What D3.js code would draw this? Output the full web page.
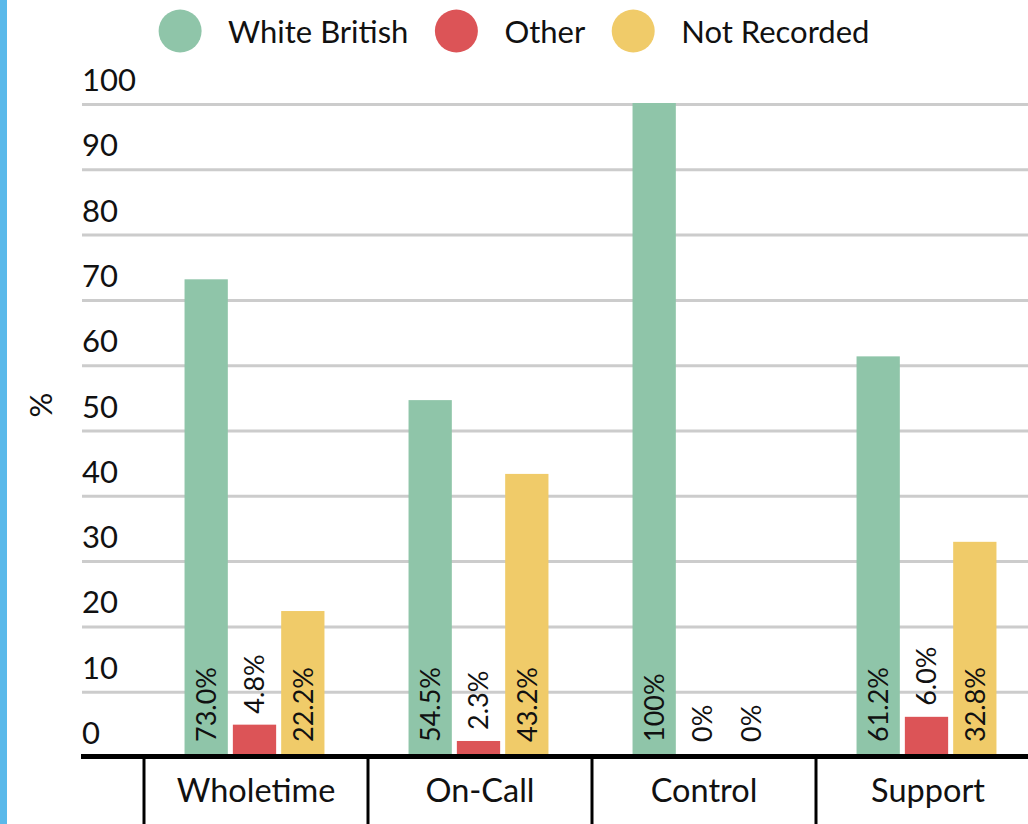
<!DOCTYPE html>
<html>
<head>
<meta charset="utf-8">
<script src="https://cdn.jsdelivr.net/npm/d3@7"></script>
<style>
  html, body { margin: 0; padding: 0; background: #fff; }
  svg { display: block; font-family: Lato, sans-serif; }
</style>
</head>
<body>
<svg id="chart" width="1028" height="824"></svg>
<script>
const categories = ["Wholetime", "On-Call", "Control", "Support"];
const seriesNames = ["White British", "Other", "Not Recorded"];
const whiteBritish = [73.0, 54.5, 100, 61.2];
const other = [4.8, 2.3, 0, 6.0];
const notRecorded = [22.2, 43.2, 0, 32.8];
const yTicks = [0, 10, 20, 30, 40, 50, 60, 70, 80, 90, 100];
const yAxisTitle = "%";

const colors = ["#8fc5a9", "#dc5457", "#f0cb69"];
const seriesValues = [whiteBritish, other, notRecorded];

const W = 1028, H = 824;
const svg = d3.select("#chart");

// left accent bar
svg.append("rect").attr("x", 0).attr("y", 0).attr("width", 7).attr("height", H).attr("fill", "#5ab9ea");

const y = d3.scaleLinear().domain([0, 100]).range([756, 103]);
const x0 = d3.scaleBand().domain(categories).range([144, 1040]);
const x1 = d3.scaleBand().domain(seriesNames).range([0, x0.bandwidth()]).paddingInner(5 / 48).paddingOuter(0.87);

// gridlines
svg.append("g").selectAll("line").data(yTicks.filter(t => t > 0)).join("line")
  .attr("x1", 82).attr("x2", W)
  .attr("y1", d => y(d) + 1.5).attr("y2", d => y(d) + 1.5)
  .attr("stroke", "#cccccc").attr("stroke-width", 3);

// tick labels
svg.append("g").selectAll("text").data(yTicks).join("text")
  .attr("x", 82).attr("y", d => y(d) - 12)
  .attr("font-size", 31).attr("fill", "#111")
  .text(d => d);

// y axis title
svg.append("text")
  .attr("transform", "translate(41.5,405) rotate(-90)")
  .attr("text-anchor", "middle").attr("dy", "0.35em")
  .attr("font-size", 31).attr("fill", "#111")
  .text(yAxisTitle);

// bars
const rows = [];
categories.forEach((c, i) => {
  seriesNames.forEach((s, j) => rows.push({ cat: c, ser: s, v: seriesValues[j][i], color: colors[j] }));
});

svg.append("g").selectAll("rect").data(rows).join("rect")
  .attr("x", d => x0(d.cat) + x1(d.ser) - 1.5)
  .attr("y", d => y(d.v))
  .attr("width", x1.bandwidth())
  .attr("height", d => y(0) - y(d.v))
  .attr("fill", d => d.color);

const fmt = v => (v === 0 || v === 100) ? v + "%" : v.toFixed(1) + "%";
const labels = svg.append("g").selectAll("text").data(rows).join("text")
  .attr("dy", "0.36em")
  .attr("font-size", 27).attr("fill", "#111")
  .text(d => fmt(d.v));
labels.attr("transform", function (d) {
  const len = this.getComputedTextLength();
  const cx = x0(d.cat) + x1(d.ser) - 1.5 + x1.bandwidth() / 2;
  const h = y(0) - y(d.v);
  const sy = (h >= len + 20) ? y(0) - 14 : Math.min(y(0) - 14, y(d.v) - 11);
  return `translate(${cx},${sy}) rotate(-90)`;
});

// baseline
svg.append("line").attr("x1", 81).attr("x2", W).attr("y1", 756.5).attr("y2", 756.5)
  .attr("stroke", "#000").attr("stroke-width", 5);

// category separators
svg.append("g").selectAll("line").data(categories).join("line")
  .attr("x1", d => x0(d)).attr("x2", d => x0(d))
  .attr("y1", 756).attr("y2", H)
  .attr("stroke", "#000").attr("stroke-width", 3);

// category labels
svg.append("g").selectAll("text").data(categories).join("text")
  .attr("x", d => x0(d) + x0.bandwidth() / 2).attr("y", 802)
  .attr("text-anchor", "middle")
  .attr("font-size", 32.5).attr("fill", "#111")
  .text(d => d);

// legend
const lg = svg.append("g");
const items = lg.selectAll("g").data(seriesNames).join("g");
items.append("circle").attr("r", 21.5).attr("cy", 31).attr("fill", (d, i) => colors[i]);
items.append("text").attr("y", 43).attr("font-size", 31).attr("fill", "#111").text(d => d);
let xpos = 0;
items.each(function (d) {
  const tw = d3.select(this).select("text").node().getComputedTextLength();
  d3.select(this).select("circle").attr("cx", xpos + 21.5);
  d3.select(this).select("text").attr("x", xpos + 21.5 + 48);
  xpos += 21.5 + 48 + tw + 26.5;
});
const total = xpos - 26.5;
lg.attr("transform", `translate(${514 - total / 2},0)`);
</script>
</body>
</html>
